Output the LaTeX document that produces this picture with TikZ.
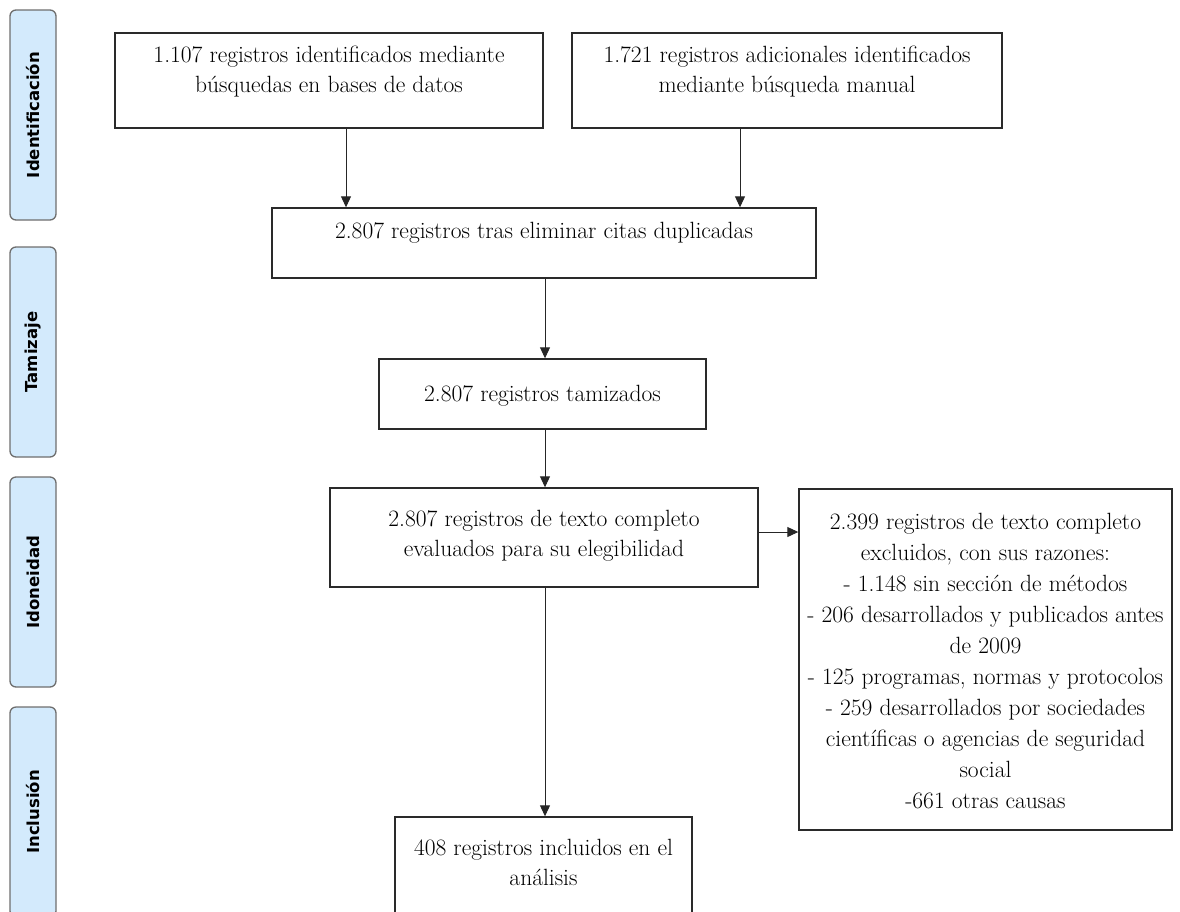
\documentclass[tikz,border=0pt]{standalone}
\usepackage{fontspec}
\newfontfamily\sidefont{DejaVu Sans}
\usetikzlibrary{arrows.meta}
\definecolor{sidefill}{HTML}{D3EAFC}
\definecolor{sidedraw}{HTML}{6E6E6E}
\definecolor{boxdraw}{HTML}{2A2A2A}
\tikzset{
  side/.style={draw=sidedraw, fill=sidefill, line width=1.3pt, rounded corners=6pt, minimum width=46pt, inner sep=0pt},
  sidetxt/.style={rotate=90, font=\sidefont\bfseries\fontsize{16.5}{18}\selectfont, inner sep=0pt},
  box/.style={draw=boxdraw, line width=1.4pt, inner sep=0pt},
  txt/.style={align=center, font=\fontsize{23.5}{30}\selectfont, inner sep=0pt},
  arr/.style={draw=black!85, line width=1pt, -{Triangle[length=11pt,width=10pt]}},
}
\begin{document}
\begin{tikzpicture}[x=1pt,y=-1pt]
\useasboundingbox (0,0) rectangle (1180,911);
% side bars
\node[side, minimum height=210pt] (s1) at (33,115) {};
\node[sidetxt] (s1t) at (33,115) {Identificación};
\node[side, minimum height=210pt] (s2) at (33,352) {};
\node[sidetxt] (s2t) at (33,352) {Tamizaje};
\node[side, minimum height=210pt] (s3) at (33,582) {};
\node[sidetxt] (s3t) at (33,582) {Idoneidad};
\node[side, minimum height=210pt] (s4) at (33,812) {};
\node[sidetxt] (s4t) at (33,812) {Inclusión};
% boxes
\node[box, minimum width=428pt, minimum height=95pt] (b1) at (329,80.5) {};
\node[txt] (b1t) at (329,72) {1.107 registros identificados mediante\\búsquedas en bases de datos};
\node[box, minimum width=430pt, minimum height=95pt] (b2) at (787,80.5) {};
\node[txt] (b2t) at (787,72) {1.721 registros adicionales identificados\\mediante búsqueda manual};
\node[box, minimum width=544pt, minimum height=70pt] (b3) at (544,243) {};
\node[txt] (b3t) at (544,233) {2.807 registros tras eliminar citas duplicadas};
\node[box, minimum width=327pt, minimum height=70pt] (b4) at (542.5,394) {};
\node[txt] (b4t) at (542.5,396) {2.807 registros tamizados};
\node[box, minimum width=428pt, minimum height=99pt] (b5) at (544,537.5) {};
\node[txt] (b5t) at (544,536) {2.807 registros de texto completo\\evaluados para su elegibilidad};
\node[box, minimum width=373pt, minimum height=341pt] (b6) at (985.5,659.5) {};
\node[txt, font=\fontsize{23.5}{31}\selectfont] (b6t) at (985.5,661) {2.399 registros de texto completo\\excluidos, con sus razones:\\- 1.148 sin sección de métodos\\- 206 desarrollados y publicados antes\\de 2009\\- 125 programas, normas y protocolos\\- 259 desarrollados por sociedades\\científicas o agencias de seguridad\\social\\-661 otras causas};
\node[box, minimum width=297pt, minimum height=120pt] (b7) at (543.5,877) {};
\node[txt] (b7t) at (543.5,862.5) {408 registros incluidos en el\\análisis};
% arrows
\draw[arr] (b1.south -| 346,0) -- (b3.north -| 346,0);
\draw[arr] (b2.south -| 740,0) -- (b3.north -| 740,0);
\draw[arr] (b3.south -| 545,0) -- (b4.north -| 545,0);
\draw[arr] (b4.south -| 545,0) -- (b5.north -| 545,0);
\draw[arr] (b5.east |- 0,532) -- (b6.west |- 0,532);
\draw[arr] (b5.south -| 545,0) -- (b7.north -| 545,0);
\end{tikzpicture}
\end{document}
